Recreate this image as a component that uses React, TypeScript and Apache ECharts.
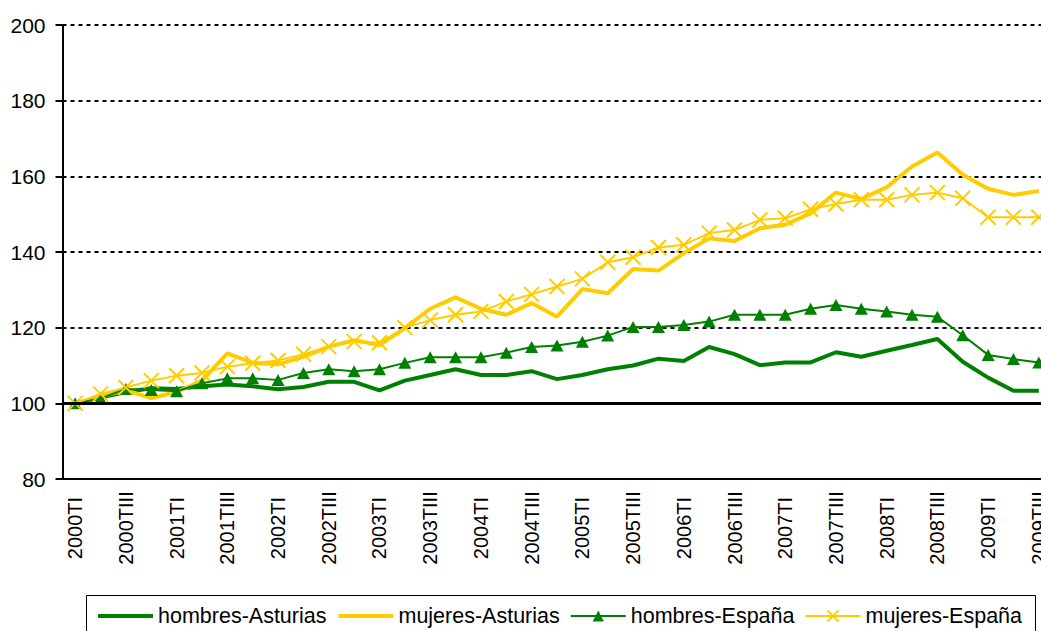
import React, { useEffect, useRef } from "react";
import * as echarts from "echarts";

const categories = [
  "2000TI", "2000TII", "2000TIII", "2000TIV",
  "2001TI", "2001TII", "2001TIII", "2001TIV",
  "2002TI", "2002TII", "2002TIII", "2002TIV",
  "2003TI", "2003TII", "2003TIII", "2003TIV",
  "2004TI", "2004TII", "2004TIII", "2004TIV",
  "2005TI", "2005TII", "2005TIII", "2005TIV",
  "2006TI", "2006TII", "2006TIII", "2006TIV",
  "2007TI", "2007TII", "2007TIII", "2007TIV",
  "2008TI", "2008TII", "2008TIII", "2008TIV",
  "2009TI", "2009TII", "2009TIII",
];

const hombresAsturias = [
  100, 101.5, 103, 104, 103.8, 104.5, 105, 104.5, 103.7, 104.3,
  105.7, 105.7, 103.4, 106, 107.5, 109, 107.5, 107.5, 108.5, 106.4,
  107.5, 109, 110, 111.8, 111.2, 114.9, 113, 110.1, 110.8, 110.8,
  113.5, 112.3, 113.9, 115.4, 117, 111, 106.8, 103.3, 103.3,
];

const mujeresAsturias = [
  100, 101.8, 103.5, 101.4, 103, 106, 113.2, 110.7, 110.3, 112.3,
  115, 116.7, 115.4, 119.9, 125, 128, 125, 123.4, 126.5, 122.9,
  130.2, 129.1, 135.5, 135.1, 139.7, 143.6, 142.9, 146.3, 147.2, 150.2,
  155.7, 154, 157.1, 162.6, 166.3, 160.4, 156.7, 155.1, 156.1,
];

const hombresEspana = [
  100, 101.3, 103.8, 103.5, 103.2, 105.3, 106.6, 106.6, 106.2, 108,
  109, 108.5, 109, 110.7, 112.2, 112.2, 112.2, 113.4, 114.9, 115.3,
  116.3, 117.9, 120.2, 120.2, 120.7, 121.6, 123.4, 123.4, 123.4, 125,
  126, 125, 124.3, 123.4, 122.9, 118, 112.8, 111.7, 110.8,
];

const mujeresEspana = [
  100, 102.5, 104.2, 106, 107.3, 108, 109.7, 110.6, 111.3, 113,
  115, 116.3, 116, 120, 122, 123.4, 124.3, 126.9, 128.8, 130.9,
  132.9, 137.3, 138.6, 141.2, 141.9, 145, 145.8, 148.5, 148.9, 151.3,
  152.7, 153.8, 153.8, 155.1, 155.7, 154.2, 149.2, 149.2, 149.2,
];

const seriesNames = ["hombres-Asturias", "mujeres-Asturias", "hombres-España", "mujeres-España"];

const GREEN = "#008000";
const YELLOW = "#FFCC00";
const FONT = "'Liberation Sans', Arial, sans-serif";

export default function App() {
  const ref = useRef<HTMLDivElement>(null);

  useEffect(() => {
    if (!ref.current) return;
    const chart = echarts.init(ref.current, null, { renderer: "svg" });
    chart.setOption({
      animation: false,
      backgroundColor: "#ffffff",
      textStyle: { fontFamily: FONT, color: "#000" },
      grid: { left: 62.5, top: 25, width: 989, height: 454 },
      legend: {
        data: [
          {
            name: seriesNames[0],
            itemStyle: { color: "rgba(0,0,0,0)", borderWidth: 0, opacity: 0 },
            lineStyle: { color: GREEN, width: 4 },
          },
          {
            name: seriesNames[1],
            itemStyle: { color: "rgba(0,0,0,0)", borderWidth: 0, opacity: 0 },
            lineStyle: { color: YELLOW, width: 4 },
          },
          { name: seriesNames[2], lineStyle: { color: GREEN, width: 2 } },
          { name: seriesNames[3], lineStyle: { color: YELLOW, width: 2 } },
        ],
        left: 91,
        top: 600,
        itemWidth: 55,
        itemHeight: 14,
        itemGap: 10,
        textStyle: { fontSize: 21.5, color: "#000", fontFamily: FONT },
      },
      graphic: [
        {
          type: "rect",
          left: 84,
          top: 593,
          shape: { width: 949, height: 60 },
          style: { fill: "none", stroke: "#000", lineWidth: 1 },
          silent: true,
        },
      ],
      xAxis: {
        type: "category",
        data: categories,
        boundaryGap: true,
        axisLine: { lineStyle: { color: "#000", width: 2 } },
        axisTick: { interval: 0, length: 7, lineStyle: { color: "#000", width: 2 } },
        axisLabel: {
          interval: 1,
          rotate: 90,
          align: "center",
          verticalAlign: "middle",
          margin: 49,
          fontSize: 20,
          color: "#000",
          fontFamily: FONT,
        },
        splitLine: { show: false },
      },
      yAxis: {
        type: "value",
        min: 80,
        max: 200,
        interval: 20,
        axisLine: { show: true, lineStyle: { color: "#000", width: 2 } },
        axisTick: { show: true, length: 7, lineStyle: { color: "#000", width: 2 } },
        axisLabel: { fontSize: 21, color: "#000", margin: 17, fontFamily: FONT },
        splitLine: { show: true, lineStyle: { color: "#000", type: [4, 4], width: 2 } },
      },
      series: [
        {
          name: seriesNames[0],
          type: "line",
          data: hombresAsturias,
          symbol: "none",
          color: GREEN,
          lineStyle: { color: GREEN, width: 4 },
          markLine: {
            silent: true,
            symbol: "none",
            label: { show: false },
            lineStyle: { color: "#000", type: "solid", width: 3 },
            data: [{ yAxis: 100 }],
          },
          z: 2,
        },
        {
          name: seriesNames[1],
          type: "line",
          data: mujeresAsturias,
          symbol: "none",
          color: YELLOW,
          lineStyle: { color: YELLOW, width: 4 },
          z: 2,
        },
        {
          name: seriesNames[2],
          type: "line",
          data: hombresEspana,
          symbol: "triangle",
          symbolSize: [13, 12],
          showAllSymbol: true,
          color: GREEN,
          itemStyle: { color: GREEN, borderWidth: 0 },
          lineStyle: { color: GREEN, width: 2 },
          z: 3,
        },
        {
          name: seriesNames[3],
          type: "line",
          data: mujeresEspana,
          symbol: "path://M0,0L10,10M10,0L0,10",
          symbolSize: 15,
          showAllSymbol: true,
          color: YELLOW,
          itemStyle: { color: "rgba(0,0,0,0)", borderColor: YELLOW, borderWidth: 2 },
          lineStyle: { color: YELLOW, width: 2 },
          z: 3,
        },
      ],
    });
    return () => chart.dispose();
  }, []);

  return (
    <div
      style={{
        position: "absolute",
        left: 0,
        top: 0,
        width: 1041,
        height: 631,
        overflow: "hidden",
        background: "#fff",
      }}
    >
      <div ref={ref} style={{ width: 1070, height: 631 }} />
    </div>
  );
}
